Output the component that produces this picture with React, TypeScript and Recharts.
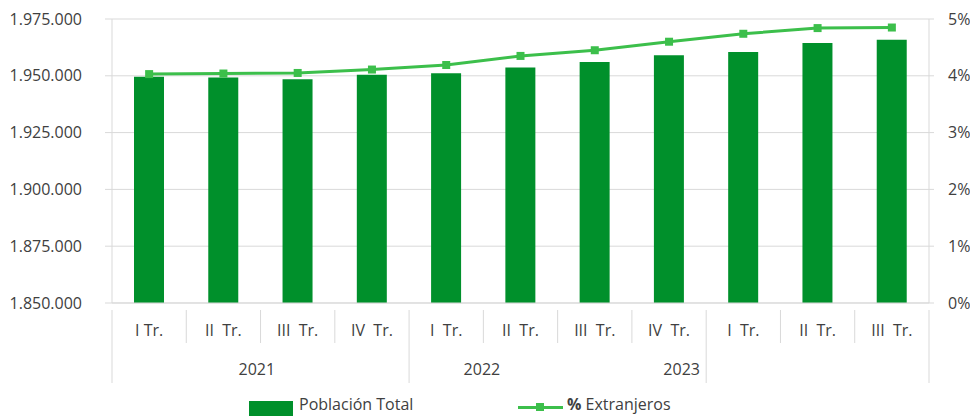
import { ComposedChart, Bar, Line, XAxis, YAxis, CartesianGrid } from 'recharts';

const quarters = ['I Tr.', 'II  Tr.', 'III  Tr.', 'IV  Tr.', 'I  Tr.', 'II  Tr.', 'III  Tr.', 'IV  Tr.', 'I  Tr.', 'II  Tr.', 'III  Tr.'];
const poblacionTotal = [1949600, 1949200, 1948500, 1950500, 1951100, 1953600, 1956100, 1959000, 1960500, 1964400, 1965900];
const pctExtranjeros = [4.03, 4.04, 4.05, 4.11, 4.19, 4.35, 4.45, 4.6, 4.74, 4.84, 4.85];
const years = ['2021', '2022', '2023'];
const yearBreaks = [0, 4, 8, 11];
const leftTicks = [1850000, 1875000, 1900000, 1925000, 1950000, 1975000];
const rightTicks = [0, 1, 2, 3, 4, 5];

const data = quarters.map((q, i) => ({
  quarter: q,
  poblacion: poblacionTotal[i],
  pct: pctExtranjeros[i],
}));

const W = 970;
const H = 416;
const LEFT = 112;
const RIGHT_W = 41;
const TOP = 19;
const PLOT_BOTTOM = 303;
const BW = (W - RIGHT_W - LEFT) / quarters.length;

const BAR = '#00902b';
const LINE = '#3cbf4b';
const GRID = '#d9d9d9';
const TEXT = '#404040';
const FONT = "'Open Sans', sans-serif";
const FS = 16;

// year labels sit where excel put them (in category units)
const yearPos = [1.95, 4.98, 7.67];

const fmtThousands = (v: number) => String(v).replace(/\B(?=(\d{3})+(?!\d))/g, '.');

const QuarterTick = (props: any) => {
  const { x, index } = props;
  const left = x - BW / 2;
  const isBreak = (k: number) => yearBreaks.includes(k);
  return (
    <g>
      <text x={x} y={336} textAnchor="middle" fill={TEXT} fontSize={FS} style={{ whiteSpace: 'pre' }}>
        {quarters[index]}
      </text>
      <line x1={left} x2={left} y1={310} y2={isBreak(index) ? 383 : 343} stroke={GRID} />
      {index === quarters.length - 1 && (
        <line x1={left + BW} x2={left + BW} y1={310} y2={383} stroke={GRID} />
      )}
      {index === 0 &&
        years.map((yr, i) => (
          <text key={yr} x={LEFT + yearPos[i] * BW} y={375} textAnchor="middle" fill={TEXT} fontSize={FS}>
            {yr}
          </text>
        ))}
    </g>
  );
};

const SquareDot = (props: any) => {
  const { cx, cy } = props;
  if (cx == null || cy == null) return null;
  return <rect x={cx - 4} y={cy - 4} width={8} height={8} fill={LINE} />;
};

export default function App() {
  return (
    <div style={{ position: 'absolute', left: 0, top: 0, width: W, height: H, overflow: 'hidden', fontFamily: FONT, background: '#fff' }}>
      <ComposedChart width={W} height={H} data={data} margin={{ top: TOP, right: 0, left: 0, bottom: 0 }}>
        <CartesianGrid horizontal vertical={false} stroke={GRID} yAxisId="left" />
        <XAxis
          dataKey="quarter"
          height={H - PLOT_BOTTOM}
          interval={0}
          tickLine={false}
          axisLine={{ stroke: GRID }}
          tick={<QuarterTick />}
        />
        <YAxis
          yAxisId="left"
          width={LEFT}
          domain={[1850000, 1975000]}
          ticks={leftTicks}
          tickFormatter={fmtThousands}
          tickSize={7}
          tickMargin={23}
          tickLine={{ stroke: GRID }}
          axisLine={{ stroke: GRID }}
          tick={{ fill: TEXT, fontSize: FS }}
        />
        <YAxis
          yAxisId="right"
          orientation="right"
          width={RIGHT_W}
          domain={[0, 5]}
          ticks={rightTicks}
          tickFormatter={(v: number) => `${v}%`}
          tickSize={5}
          tickMargin={14}
          tickLine={{ stroke: GRID }}
          axisLine={{ stroke: GRID }}
          tick={{ fill: TEXT, fontSize: FS, textAnchor: 'start' }}
        />
        <Bar yAxisId="left" dataKey="poblacion" fill={BAR} barSize={30} isAnimationActive={false} />
        <Line
          yAxisId="right"
          dataKey="pct"
          stroke={LINE}
          strokeWidth={3}
          dot={<SquareDot />}
          activeDot={false}
          isAnimationActive={false}
        />
      </ComposedChart>
      <div style={{ position: 'absolute', left: 249, top: 401, width: 44, height: 16, background: BAR }} />
      <div style={{ position: 'absolute', left: 299, top: 394, fontSize: FS, color: TEXT, lineHeight: '20px' }}>
        Población Total
      </div>
      <div style={{ position: 'absolute', left: 518, top: 406, width: 45, height: 3, background: LINE }} />
      <div style={{ position: 'absolute', left: 536, top: 403, width: 8, height: 8, background: LINE }} />
      <div style={{ position: 'absolute', left: 567, top: 394, fontSize: FS, color: TEXT, lineHeight: '20px' }}>
        <b>%</b> Extranjeros
      </div>
    </div>
  );
}
